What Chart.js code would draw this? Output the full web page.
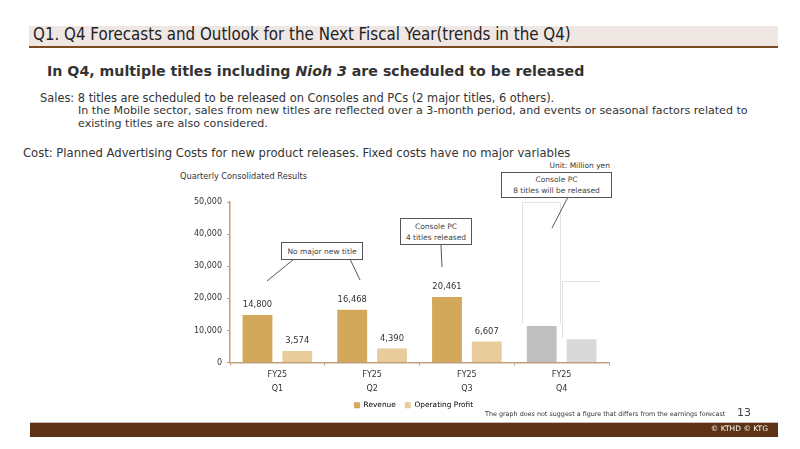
<!DOCTYPE html>
<html>
<head>
<meta charset="utf-8">
<script src="https://cdn.jsdelivr.net/npm/chart.js@4.4.1/dist/chart.umd.min.js"></script>
<style>
  body { margin: 0; width: 800px; height: 449px; overflow: hidden; background: #fff; font-family: "DejaVu Sans", Verdana, sans-serif; color: #333; position: relative; }
  .abs { position: absolute; white-space: nowrap; }
  #band { left: 29px; top: 26px; width: 749px; height: 20px; background: #EFE7E4; border-bottom: 2px solid #7A4A22; }
  #title { left: 33px; top: 24px; font-family: "DejaVu Sans Condensed", sans-serif; font-size: 16.8px; color: #222; }
  #head { left: 47px; top: 63px; font-size: 14.2px; font-weight: bold; color: #333; }
  .body { font-size: 11.1px; color: #333; }
  #chartBox { left: 170px; top: 190px; width: 450px; height: 241px; }
  .note { font-size: 7.5px; color: #333; }
  .callout { position: absolute; border: 1px solid #555; background: #fff; font-size: 7.5px; color: #444; text-align: center; line-height: 11px; box-sizing: border-box; display: flex; flex-direction: column; justify-content: center; }
  #footer { left: 30px; top: 422px; width: 748px; height: 14px; background: #5C3314; border-top: 1px solid #C9B9AE; }
  #copy { right: 32px; top: 424px; color: #fff; font-size: 7.5px; }
</style>
</head>
<body>
<div id="band" class="abs"></div>
<div id="title" class="abs">Q1. Q4 Forecasts and Outlook for the Next Fiscal Year(trends in the Q4)</div>
<div id="head" class="abs">In Q4, multiple titles including <i>Nioh 3</i> are scheduled to be released</div>
<div class="abs body" style="left:40px;top:91px;font-size:11.4px;">Sales: 8 titles are scheduled to be released on Consoles and PCs (2 major titles, 6 others).</div>
<div class="abs body" style="left:78px;top:104px;">In the Mobile sector, sales from new titles are reflected over a 3-month period, and events or seasonal factors related to</div>
<div class="abs body" style="left:78px;top:117px;">existing titles are also considered.</div>
<div class="abs body" style="left:23px;top:146px;font-size:11.6px;">Cost: Planned Advertising Costs for new product releases. Fixed costs have no major variables</div>
<div class="abs note" style="right:190px;top:161px;">Unit: Million yen</div>
<div class="abs note" style="left:180px;top:171px;font-size:8.2px;">Quarterly Consolidated Results</div>

<div id="chartBox" class="abs"><canvas id="chart"></canvas></div>

<svg class="abs" style="left:0;top:0;" width="800" height="449">
  <g stroke="#444" stroke-width="0.9" fill="none">
    <line x1="294" y1="259" x2="267" y2="281"/>
    <line x1="350" y1="259" x2="360" y2="280"/>
    <line x1="441" y1="245" x2="442" y2="267"/>
    <line x1="568" y1="197" x2="552" y2="228"/>
  </g>
</svg>
<div class="callout" style="left:281px;top:242px;width:82px;height:18px;">No major new title</div>
<div class="callout" style="left:400px;top:218px;width:72px;height:27px;">Console PC<br>4 titles released</div>
<div class="callout" style="left:501px;top:172px;width:111px;height:26px;">Console PC<br>8 titles will be released</div>

<div class="abs note" style="left:485px;top:410px;font-size:6.4px;">The graph does not suggest a figure that differs from the earnings forecast</div>
<div class="abs" style="left:737px;top:406px;font-size:11px;color:#444;">13</div>
<div id="footer" class="abs"></div>
<div id="copy" class="abs">© KTHD © KTG</div>

<script>
const quarters = [["FY25", "Q1"], ["FY25", "Q2"], ["FY25", "Q3"], ["FY25", "Q4"]];
const revenue = [14800, 16468, 20461, 11400];
const operatingProfit = [3574, 4390, 6607, 7250];
// Q4 is a forecast: grey bars, no labels, with hollow outline above
const revenueColors = ["#D4A85A", "#D4A85A", "#D4A85A", "#BFBFBF"];
const profitColors = ["#E8CC9C", "#E8CC9C", "#E8CC9C", "#D9D9D9"];
const outlineTops = [null, null, null, 50000];
const outlineTopsProfit = [null, null, null, 25300];
const yTicks = [0, 10000, 20000, 30000, 40000, 50000];

const axisColor = "#BFA07C";
const fmt = v => v.toLocaleString("en-US");

const barLabels = {
    id: "barLabels",
    afterDatasetsDraw(chart) {
        const ctx = chart.ctx;
        ctx.save();
        ctx.font = "8.4px 'DejaVu Sans'";
        ctx.fillStyle = "#333";
        ctx.textAlign = "center";
        ctx.textBaseline = "middle";
        chart.data.datasets.forEach((ds, i) => {
            chart.getDatasetMeta(i).data.forEach((bar, j) => {
                if (j === 3) return;
                ctx.fillText(fmt(ds.data[j]), bar.x, bar.y - 10);
            });
        });
        ctx.restore();
    }
};

// light outline boxes above the Q4 forecast bars
const forecastOutline = {
    id: "forecastOutline",
    afterDatasetsDraw(chart) {
        const ctx = chart.ctx;
        const y = chart.scales.y;
        ctx.save();
        ctx.strokeStyle = "#E3E3E3";
        ctx.lineWidth = 1;
        const tops = [outlineTops, outlineTopsProfit];
        [0, 1].forEach(i => {
            chart.getDatasetMeta(i).data.forEach((bar, j) => {
                if (tops[i][j] == null) return;
                const left = Math.round(bar.x - bar.width / 2 - 5) + 0.5;
                const right = Math.round(bar.x + bar.width / 2 + 3) + 0.5;
                const top = Math.round(y.getPixelForValue(tops[i][j])) + 0.5;
                ctx.beginPath();
                ctx.moveTo(left, bar.y - 2);
                ctx.lineTo(left, top);
                ctx.lineTo(right, top);
                if (i === 0) ctx.lineTo(right, bar.y - 2);
                ctx.stroke();
            });
        });
        ctx.restore();
    }
};

// legend sits under the plot area, a bit tighter to the axis labels
const legendShift = {
    id: "legendShift",
    afterLayout(chart) {
        const lg = chart.legend;
        lg.left += 24; lg.right += 24;
        lg.top -= 12; lg.bottom -= 12;
    }
};

new Chart(document.getElementById("chart"), {
    type: "bar",
    data: {
        labels: quarters,
        datasets: [
            { label: "Revenue", data: revenue, backgroundColor: revenueColors },
            { label: "Operating Profit", data: operatingProfit, backgroundColor: profitColors }
        ]
    },
    options: {
        responsive: true,
        maintainAspectRatio: false,
        animation: false,
        datasets: { bar: { categoryPercentage: 0.84, barPercentage: 0.75 } },
        layout: { padding: { top: 12, right: 11, left: 0, bottom: 0 } },
        plugins: {
            tooltip: { enabled: false },
            legend: {
                position: "bottom",
                labels: {
                    boxWidth: 6, boxHeight: 6, padding: 9,
                    color: "#333",
                    font: { family: "DejaVu Sans", size: 7.4 },
                    generateLabels: chart => chart.data.datasets.map((ds, i) => ({
                        text: ds.label, fillStyle: ds.backgroundColor[0], strokeStyle: ds.backgroundColor[0],
                        lineWidth: 0, datasetIndex: i
                    }))
                }
            }
        },
        scales: {
            x: {
                grid: { display: true, drawOnChartArea: false, offset: true, color: axisColor, tickLength: 3 },
                border: { color: axisColor, width: 1.5 },
                ticks: { color: "#333", font: { family: "DejaVu Sans", size: 8, lineHeight: 1.75 }, padding: 2 },
                afterFit: s => { s.height = 42; }
            },
            y: {
                min: 0, max: 50000,
                afterBuildTicks: s => { s.ticks = yTicks.map(v => ({ value: v })); },
                grid: { display: true, drawOnChartArea: false, color: axisColor, tickLength: 3 },
                border: { color: axisColor, width: 1.5 },
                ticks: { color: "#333", font: { family: "DejaVu Sans", size: 8 }, padding: 5, callback: v => fmt(v) },
                afterFit: s => { s.width = 60; }
            }
        }
    },
    plugins: [barLabels, forecastOutline, legendShift]
});
</script>
</body>
</html>
